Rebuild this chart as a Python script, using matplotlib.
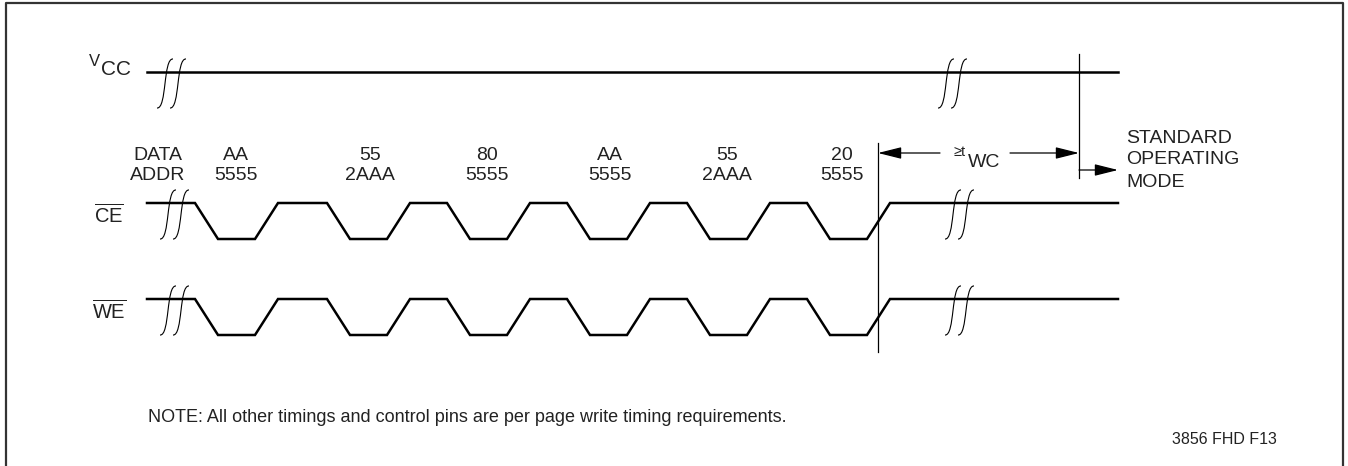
import matplotlib.pyplot as plt
from matplotlib.path import Path
from matplotlib.patches import PathPatch

plt.rcParams['font.family'] = ['Liberation Sans', 'DejaVu Sans']
plt.rcParams['mathtext.fontset'] = 'custom'
plt.rcParams['mathtext.rm'] = 'Liberation Sans'

#%% timing data (time axis in drawing units)
t_start = 147
t_end = 1118
fall_times = [195, 327, 447, 567, 687, 807]   # CE/WE falling edges
edge_time = 23
low_time = 37
t_cycle_end = 878                               # end of last write cycle
t_wc_end = 1079                                 # end of tWC

vcc_level = 72
ce_levels = [203, 239]   # high, low
we_levels = [299, 335]

vcc_breaks = [157, 938]
ce_breaks = [160, 945]
we_breaks = [160, 945]

label_data = ['DATA', 'AA', '55', '80', 'AA', '55', '20']
label_addr = ['ADDR', '5555', '2AAA', '5555', '5555', '2AAA', '5555']
label_pos = [158, 236, 370, 487, 610, 727, 842]

note = 'NOTE: All other timings and control pins are per page write timing requirements.'
fig_id = '3856 FHD F13'


def wave(levels):
    hi, lo = levels
    xs = [t_start, fall_times[0]]
    ys = [hi, hi]
    for f in fall_times:
        xs += [f, f + edge_time, f + edge_time + low_time, f + 2*edge_time + low_time]
        ys += [hi, lo, lo, hi]
    xs.append(t_end)
    ys.append(hi)
    return xs, ys


def break_mark(ax, x0, level):
    # two integral-sign shaped strokes
    top = level - 13
    bot = level + 36
    for dx in [0, 13]:
        xb = x0 + dx
        verts = [(xb, bot), (xb + 10, bot + 1), (xb + 6, top - 1), (xb + 16, top)]
        p = Path(verts, [Path.MOVETO, Path.CURVE4, Path.CURVE4, Path.CURVE4])
        ax.add_patch(PathPatch(p, fc='none', ec='black', lw=0.8))


fig = plt.figure(figsize=(13.48, 4.66), dpi=100)
ax = fig.add_axes([0, 0, 1, 1])
ax.set_xlim(0, 1348)
ax.set_ylim(466, 0)
ax.axis('off')

# frame
ax.plot([6, 6, 1343, 1343], [470, 2.5, 2.5, 470], color='#333333', lw=1.6)

lw_sig = 1.8
ax.plot([t_start, t_end], [vcc_level, vcc_level], color='black', lw=lw_sig)
for lev in [ce_levels, we_levels]:
    xs, ys = wave(lev)
    ax.plot(xs, ys, color='black', lw=lw_sig, solid_joinstyle='miter')

for b in vcc_breaks:
    break_mark(ax, b, vcc_level)
for b in ce_breaks:
    break_mark(ax, b, ce_levels[0])
for b in we_breaks:
    break_mark(ax, b, we_levels[0])

# vertical markers
ax.plot([t_cycle_end, t_cycle_end], [143, 352], color='black', lw=0.9)
ax.plot([t_wc_end, t_wc_end], [54, 178], color='black', lw=0.9)

arrow = dict(arrowstyle='-|>,head_length=1.2,head_width=0.3', color='black',
             lw=0.9, shrinkA=0, shrinkB=0, mutation_scale=12)
ax.annotate('', xy=(t_cycle_end, 153), xytext=(940, 153), arrowprops=arrow)
ax.annotate('', xy=(t_wc_end, 153), xytext=(1010, 153), arrowprops=arrow)
ax.annotate('', xy=(t_end, 170), xytext=(t_wc_end, 170), arrowprops=arrow)

# texts
ax.text(966, 156, '\u2265t', fontsize=10.5, ha='right', va='baseline', color='#222222')
ax.text(968, 167, 'WC', fontsize=14, ha='left', va='baseline', color='#222222')

ax.text(1126, 143, 'STANDARD', fontsize=14, ha='left', va='baseline', color='#222222')
ax.text(1126, 164, 'OPERATING', fontsize=14, ha='left', va='baseline', color='#222222')
ax.text(1126, 187, 'MODE', fontsize=14, ha='left', va='baseline', color='#222222')

for top, bot, x in zip(label_data, label_addr, label_pos):
    ax.text(x, 160, top, fontsize=14, ha='center', va='baseline', color='#222222')
    ax.text(x, 180, bot, fontsize=14, ha='center', va='baseline', color='#222222')

ax.text(100, 66, 'V', fontsize=12, ha='right', va='baseline', color='#222222')
ax.text(101, 75, 'CC', fontsize=15, ha='left', va='baseline', color='#222222')
ax.text(94, 223, r'$\overline{\mathrm{CE}}$', fontsize=14.5, ha='left', va='baseline',
        color='#222222')
ax.text(92, 319, r'$\overline{\mathrm{WE}}$', fontsize=14.5, ha='left', va='baseline',
        color='#222222')

ax.text(148, 422, note, fontsize=13, ha='left', va='baseline', color='#222222')
ax.text(1172, 444, fig_id, fontsize=11.5, ha='left', va='baseline', color='#222222')

fig.savefig('out.png', dpi=100)
